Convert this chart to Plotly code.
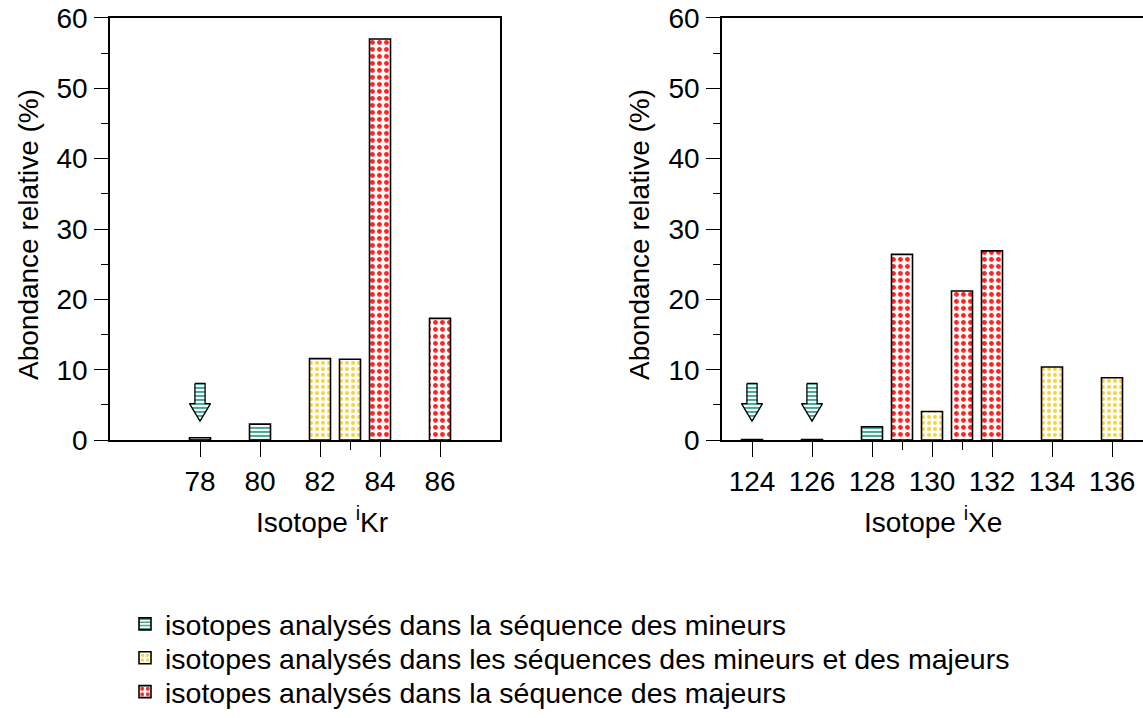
import plotly.graph_objects as go

# ---------------- data ----------------
kr_isotopes = [78, 80, 82, 83, 84, 86]
kr_abundance = [0.35, 2.28, 11.58, 11.49, 57.0, 17.3]
kr_group = ["min", "min", "both", "both", "maj", "maj"]

xe_isotopes = [124, 126, 128, 129, 130, 131, 132, 134, 136]
xe_abundance = [0.10, 0.09, 1.91, 26.4, 4.07, 21.2, 26.9, 10.4, 8.86]
xe_group = ["min", "min", "min", "maj", "both", "maj", "maj", "both", "both"]

kr_ticks = [78, 80, 82, 84, 86]
kr_minor_ticks = [83]
xe_ticks = [124, 126, 128, 130, 132, 134, 136]
xe_minor_ticks = [129, 131]

kr_arrows = [78]
xe_arrows = [124, 126]

group_names = {
    "min": "isotopes analysés dans la séquence des mineurs",
    "both": "isotopes analysés dans les séquences des mineurs et des majeurs",
    "maj": "isotopes analysés dans la séquence des majeurs",
}
group_order = ["min", "both", "maj"]
group_legend = {"min": "legend", "both": "legend2", "maj": "legend3"}

# ---------------- styles ----------------
TEAL = "#16917c"
YELLOW = "#f7d23c"
RED = "#ff2424"
patterns = {
    "min": dict(shape="-", fgcolor=TEAL, bgcolor="white", size=4, solidity=0.4,
                fillmode="overlay", fgopacity=1),
    "both": dict(shape=".", fgcolor=YELLOW, bgcolor="white", size=6, solidity=0.35,
                 fillmode="overlay", fgopacity=1),
    "maj": dict(shape=".", fgcolor=RED, bgcolor="white", size=7, solidity=0.4,
                fillmode="overlay", fgopacity=1),
}
FONT = "Liberation Sans, Arial, sans-serif"
BAR_W = 0.7

fig = go.Figure()

def add_bars(xs, ys, groups, xa, ya, showlegend):
    for g in group_order:
        gx = [x for x, gg in zip(xs, groups) if gg == g]
        gy = [y for y, gg in zip(ys, groups) if gg == g]
        fig.add_trace(go.Bar(
            x=gx, y=gy, width=BAR_W, name=group_names[g], legendgroup=g,
            legend=group_legend[g],
            showlegend=showlegend, xaxis=xa, yaxis=ya,
            marker=dict(color="white", pattern=patterns[g],
                        line=dict(color="black", width=1.6)),
        ))

def add_arrows(xs, xa, ya):
    # hollow block arrow pointing down at the given isotope positions
    body_hw, head_hw = 0.17, 0.35
    top, neck, tip = 8.06, 5.2, 2.7
    for x in xs:
        px = [x - body_hw, x + body_hw, x + body_hw, x + head_hw, x, x - head_hw, x - body_hw, x - body_hw]
        py = [top, top, neck, neck, tip, neck, neck, top]
        fig.add_trace(go.Scatter(
            x=px, y=py, mode="lines", fill="toself", fillcolor="white",
            fillpattern=dict(shape="-", fgcolor=TEAL, bgcolor="white", size=4, solidity=0.4,
                             fillmode="replace"),
            line=dict(color="black", width=1.3), showlegend=False, hoverinfo="skip",
            xaxis=xa, yaxis=ya,
        ))

add_bars(kr_isotopes, kr_abundance, kr_group, "x", "y", True)
add_bars(xe_isotopes, xe_abundance, xe_group, "x2", "y2", False)
add_arrows(kr_arrows, "x", "y")
add_arrows(xe_arrows, "x2", "y2")

W, H = 1143, 718
def px_x(p):
    return p / W
def px_y(p):
    return 1 - p / H

y_dom = [px_y(442), px_y(18)]

TICKFONT = dict(size=28, color="black", family=FONT)
common_x = dict(
    showline=True, linecolor="black", linewidth=1.5, mirror=True,
    ticks="outside", ticklen=15, tickwidth=1.3, tickcolor="black",
    tickfont=TICKFONT, ticklabeloverflow="allow",
    showgrid=False, zeroline=False, automargin=False, tickmode="array",
)
common_y = dict(
    range=[0, 60], dtick=10, tick0=0, tickmode="linear",
    showline=True, linecolor="black", linewidth=1.5,
    ticks="outside", ticklen=14, tickwidth=1.3, tickcolor="black",
    tickfont=TICKFONT, ticklabelstandoff=1, ticklabeloverflow="allow",
    minor=dict(dtick=5, ticks="outside", ticklen=7, tickcolor="black", tickwidth=1.3),
    showgrid=False, zeroline=False, automargin=False, domain=y_dom,
)

def legend_at(yc):
    return dict(
        x=px_x(125), y=px_y(yc), xanchor="left", yanchor="middle",
        font=dict(size=28.5, color="black", family=FONT),
        tracegroupgap=0, bgcolor="rgba(0,0,0,0)", borderwidth=0,
    )

fig.update_layout(
    width=W, height=H,
    margin=dict(l=0, r=0, t=0, b=0),
    paper_bgcolor="white", plot_bgcolor="white",
    barmode="overlay",
    font=dict(family=FONT, color="black"),
    xaxis=dict(common_x, domain=[px_x(110), px_x(500)], range=[75, 88],
               tickvals=kr_ticks, ticktext=[str(v) for v in kr_ticks],
               minor=dict(tickmode="array", tickvals=kr_minor_ticks, ticks="outside",
                          ticklen=8, tickcolor="black", tickwidth=1.3),
               anchor="y"),
    yaxis=dict(common_y, mirror=True, anchor="x"),
    xaxis2=dict(common_x, domain=[px_x(722), 1.0], range=[123, 123 + (1143 - 722) / 30],
                tickvals=xe_ticks, ticktext=[str(v) for v in xe_ticks],
                minor=dict(tickmode="array", tickvals=xe_minor_ticks, ticks="outside",
                           ticklen=8, tickcolor="black", tickwidth=1.3),
                anchor="y2"),
    yaxis2=dict(common_y, mirror=False, anchor="x2"),
    legend=legend_at(627),
    legend2=legend_at(661),
    legend3=legend_at(695),
    showlegend=True,
)

ann_font = dict(size=28, color="black", family=FONT)
fig.add_annotation(text="Abondance relative (%)", x=px_x(28), y=px_y(236), xref="paper", yref="paper",
                   textangle=-90, showarrow=False, font=ann_font, xanchor="center", yanchor="middle")
fig.add_annotation(text="Abondance relative (%)", x=px_x(639), y=px_y(236), xref="paper", yref="paper",
                   textangle=-90, showarrow=False, font=ann_font, xanchor="center", yanchor="middle")
fig.add_annotation(text="Isotope <sup>i</sup>Kr", x=px_x(322), y=px_y(522), xref="paper", yref="paper",
                   showarrow=False, font=ann_font, xanchor="center", yanchor="middle")
fig.add_annotation(text="Isotope <sup>i</sup>Xe", x=px_x(933), y=px_y(522), xref="paper", yref="paper",
                   showarrow=False, font=ann_font, xanchor="center", yanchor="middle")

fig.write_html("out.html", config={"displayModeBar": False},
               post_script="document.body.style.margin='0';")
